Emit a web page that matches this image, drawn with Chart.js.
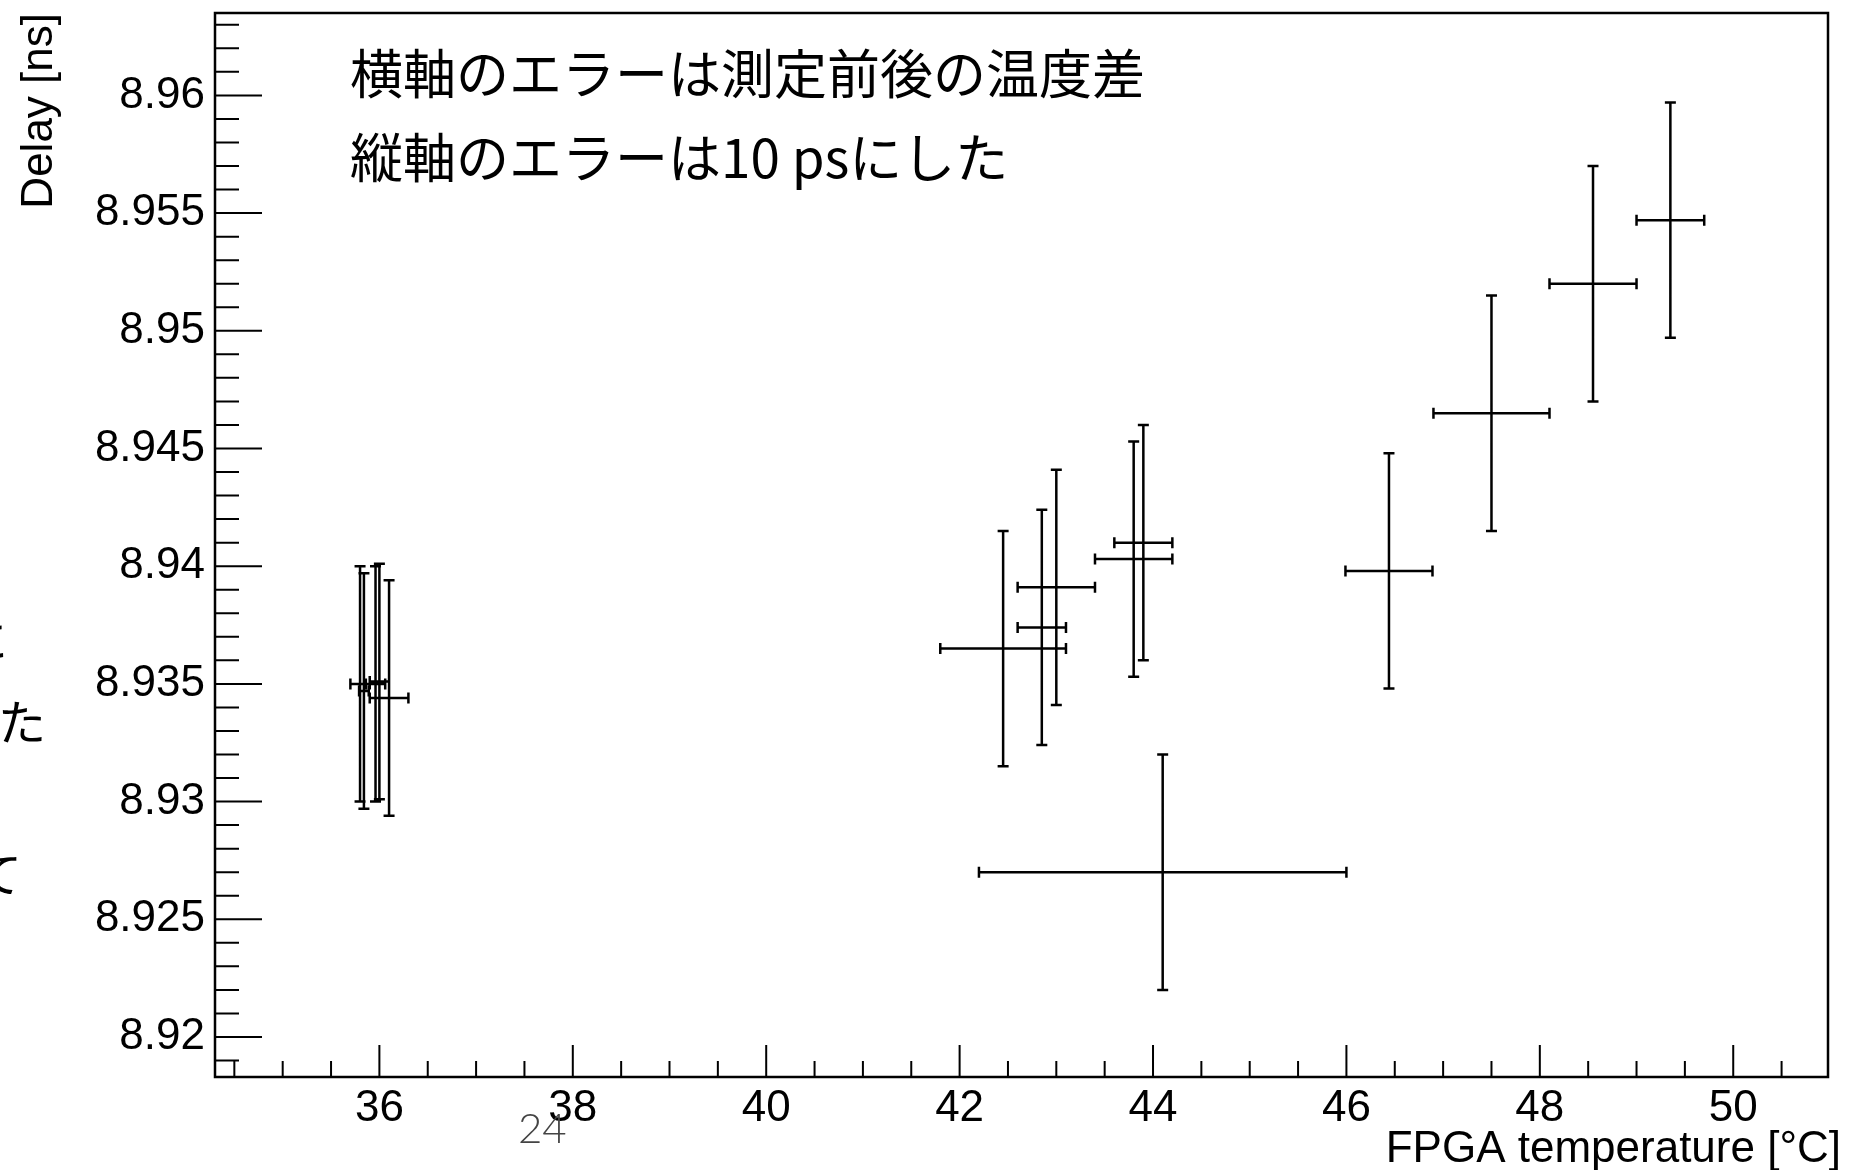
<!DOCTYPE html>
<html>
<head>
<meta charset="utf-8">
<script src="https://cdn.jsdelivr.net/npm/chart.js@4.4.1/dist/chart.umd.min.js"></script>
<style>
  html, body { margin: 0; padding: 0; background: #fff; }
  canvas { display: block; }
</style>
</head>
<body>
<canvas id="delayChart" width="1859" height="1170"></canvas>
<script>
// FPGA temperature [°C] and its error (before/after difference)
const temps    = [35.80, 35.84, 35.96, 36.00, 36.10, 42.45, 42.85, 43.00, 43.80, 43.90, 44.10, 46.44, 47.50, 48.55, 49.35];
const tempErrs = [0.10, 0.05, 0.10, 0.10, 0.20, 0.65, 0.25, 0.40, 0.40, 0.30, 1.90, 0.45, 0.60, 0.45, 0.35];
// Delay [ns]
const delays   = [8.9350, 8.9347, 8.9350, 8.9351, 8.9344, 8.9365, 8.9374, 8.9391, 8.9403, 8.9410, 8.9270, 8.9398, 8.9465, 8.9520, 8.9547];
const delayErrs = [0.005, 0.005, 0.005, 0.005, 0.005, 0.005, 0.005, 0.005, 0.005, 0.005, 0.005, 0.005, 0.005, 0.005, 0.005];

const xTicks = [36, 38, 40, 42, 44, 46, 48, 50];
const yTicks = [8.92, 8.925, 8.93, 8.935, 8.94, 8.945, 8.95, 8.955, 8.96];
const yTickLabels = ['8.92', '8.925', '8.93', '8.935', '8.94', '8.945', '8.95', '8.955', '8.96'];

const xTitle = 'FPGA temperature [°C]';
const noteLines = ['横軸のエラーは測定前後の温度差', '縦軸のエラーは10 psにした'];

// error bars like ROOT's TGraphErrors
const errorBars = {
  id: 'errorBars',
  afterDatasetsDraw(chart) {
    const {ctx, scales: {x, y}} = chart;
    const cap = 5.5;
    ctx.save();
    ctx.strokeStyle = '#000';
    ctx.lineWidth = 2.5;
    ctx.beginPath();
    temps.forEach((t, i) => {
      const px = x.getPixelForValue(t);
      const py = y.getPixelForValue(delays[i]);
      const x0 = x.getPixelForValue(t - tempErrs[i]);
      const x1 = x.getPixelForValue(t + tempErrs[i]);
      const y0 = y.getPixelForValue(delays[i] - delayErrs[i]);
      const y1 = y.getPixelForValue(delays[i] + delayErrs[i]);
      ctx.moveTo(x0, py); ctx.lineTo(x1, py);
      ctx.moveTo(x0, py - cap); ctx.lineTo(x0, py + cap);
      ctx.moveTo(x1, py - cap); ctx.lineTo(x1, py + cap);
      ctx.moveTo(px, y0); ctx.lineTo(px, y1);
      ctx.moveTo(px - cap, y0); ctx.lineTo(px + cap, y0);
      ctx.moveTo(px - cap, y1); ctx.lineTo(px + cap, y1);
    });
    ctx.stroke();
    ctx.restore();
  }
};

// frame plus inward major/minor ticks, x title and the notes
const rootFrame = {
  id: 'rootFrame',
  afterDraw(chart) {
    const {ctx, chartArea: a, scales: {x, y}} = chart;
    ctx.save();
    ctx.strokeStyle = '#000';
    ctx.lineWidth = 2;
    ctx.beginPath();
    for (let k = Math.ceil(x.min * 2 - 1e-6); k <= Math.floor(x.max * 2 + 1e-6); k++) {
      const px = x.getPixelForValue(k / 2);
      const len = k % 4 === 0 ? 32 : 16;
      ctx.moveTo(px, a.bottom); ctx.lineTo(px, a.bottom - len);
    }
    for (let k = Math.ceil(y.min * 1000); k <= Math.floor(y.max * 1000); k++) {
      const py = y.getPixelForValue(k / 1000);
      const len = k % 5 === 0 ? 47 : 24;
      ctx.moveTo(a.left, py); ctx.lineTo(a.left + len, py);
    }
    ctx.stroke();
    ctx.lineWidth = 2.5;
    ctx.strokeRect(a.left, a.top, a.right - a.left, a.bottom - a.top);

    ctx.fillStyle = '#000';
    ctx.font = '44px "Liberation Sans", Arial, sans-serif';
    ctx.textAlign = 'right';
    ctx.textBaseline = 'alphabetic';
    ctx.fillText(xTitle, a.right + 13, 1162);

    // notes inside the frame
    ctx.font = '53px "Noto Sans CJK JP"';
    ctx.textBaseline = 'middle';
    ctx.textAlign = 'left';
    ctx.fillText(noteLines[0], 350, 74);
    ctx.fillText(noteLines[1], 350, 158);

    // slide leftovers: page number and cut-off text at the left edge
    ctx.fillStyle = '#444';
    ctx.font = '300 42px Lato, "Noto Sans"';
    ctx.textBaseline = 'alphabetic';
    ctx.fillText('24', 518, 1143);
    ctx.fillStyle = '#000';
    ctx.font = '48px "Noto Sans CJK JP"';
    ctx.textAlign = 'right';
    ctx.textBaseline = 'middle';
    ctx.fillText('に', 8, 640);
    ctx.fillText('た', 46, 722);
    ctx.fillText('て', 22, 874);
    ctx.restore();
  }
};

new Chart(document.getElementById('delayChart'), {
  type: 'scatter',
  data: {
    datasets: [{
      data: temps.map((t, i) => ({x: t, y: delays[i]})),
      pointRadius: 0,
      showLine: false
    }]
  },
  options: {
    responsive: false,
    animation: false,
    devicePixelRatio: 1,
    layout: {padding: {left: 0, top: 13, right: 31, bottom: 0}},
    plugins: {legend: {display: false}, tooltip: {enabled: false}},
    scales: {
      x: {
        type: 'linear',
        min: 34.3,
        max: 50.98,
        afterBuildTicks: s => { s.ticks = xTicks.map(v => ({value: v})); },
        afterFit: s => { s.height = 93; s.paddingLeft = 0; s.paddingRight = 0; },
        grid: {display: false, drawTicks: false},
        border: {display: false},
        ticks: {
          color: '#000',
          padding: 5,
          font: {family: '"Liberation Sans", Arial, sans-serif', size: 44},
          callback: v => String(v)
        }
      },
      y: {
        type: 'linear',
        min: 8.9183,
        max: 8.9635,
        afterBuildTicks: s => { s.ticks = yTicks.map(v => ({value: v})); },
        afterFit: s => { s.width = 215; s.paddingTop = 0; s.paddingBottom = 0; },
        grid: {display: false, drawTicks: false},
        border: {display: false},
        ticks: {
          color: '#000',
          padding: 10,
          font: {family: '"Liberation Sans", Arial, sans-serif', size: 44},
          callback: (v, i) => yTickLabels[i]
        },
        title: {
          display: true,
          text: 'Delay [ns]',
          align: 'end',
          color: '#000',
          padding: {top: 13, bottom: 0},
          font: {family: '"Liberation Sans", Arial, sans-serif', size: 44}
        }
      }
    }
  },
  plugins: [errorBars, rootFrame]
});
</script>
</body>
</html>
